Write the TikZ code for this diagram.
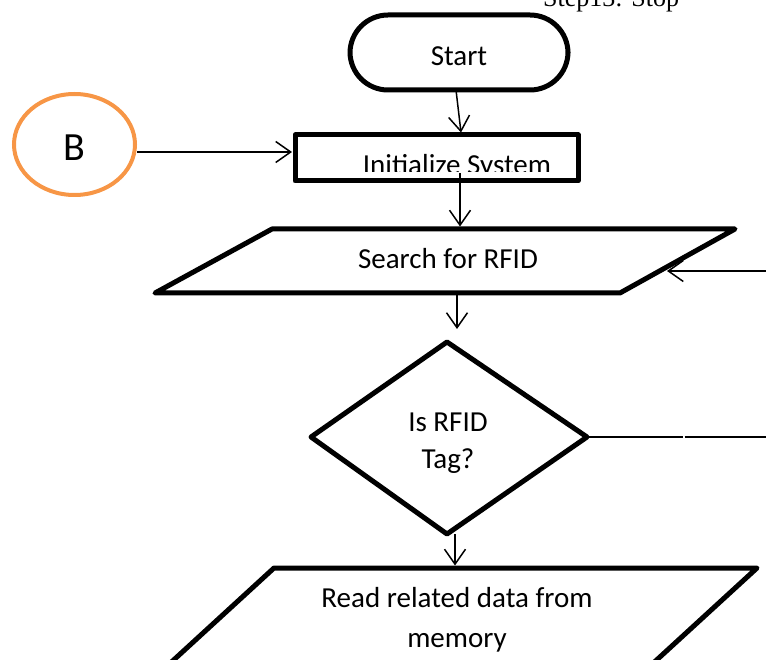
\documentclass[tikz,border=0pt]{standalone}
\usepackage{fontspec}
\usetikzlibrary{arrows.meta,shapes.geometric}
\newfontfamily\flowfont{Carlito}
\newfontfamily\notefont{Liberation Serif}
\definecolor{connorange}{HTML}{F79646}
\tikzset{
  shapeline/.style={line width=5pt, line join=round, black},
  conn/.style={line width=1.5pt, black},
  arr/.style={conn, -{Straight Barb[length=15pt,width=21pt,line width=1.5pt]}},
  flowtext/.style={font=\flowfont\fontsize{29pt}{37pt}\selectfont, align=center, inner sep=0pt, anchor=base},
}
\begin{document}
\begin{tikzpicture}[x=1pt,y=-1pt]
  \useasboundingbox (0,0) rectangle (766,660);
  \clip (0,0) rectangle (766,660);

  % note at the top edge
  \node[font=\notefont\fontsize{26pt}{30pt}\selectfont, anchor=base west, inner sep=0pt] (note) at (543,7) {Step13: Stop};

  % terminal
  \draw[shapeline, rounded corners=38pt] (350,15) rectangle (568,90);
  \node[flowtext] (start) at (459,66) {Start};
  \coordinate (startS) at (456,90);

  % connector circle
  \node[draw=connorange, line width=4pt, ellipse, minimum width=121pt, minimum height=101pt, inner sep=0pt,
        font=\flowfont\fontsize{40pt}{44pt}\selectfont] (B) at (74.5,144.5) {\raisebox{-3pt}[\height][0pt]{B}};

  % process box
  \draw[shapeline] (295,135) rectangle (578,181);
  \coordinate (initN) at (461,132.5);
  \coordinate (initW) at (292,152);
  \coordinate (initOut) at (460,173);
  \begin{scope}
    \clip (296,136) rectangle (577,171.5);
    \node[flowtext] (init) at (457,175) {Initialize System};
  \end{scope}

  % input box
  \draw[shapeline] (272,229) -- (735,229) -- (620,293) -- (155,293) -- cycle;
  \node[flowtext] (search) at (448,269) {Search for RFID};
  \coordinate (searchN) at (460,226.5);
  \coordinate (searchS) at (457,293);
  \coordinate (searchE) at (667,271);
  \coordinate (loopin) at (766,271);

  % decision (base anchor sits on the last line)
  \draw[shapeline] (311,437) -- (447,342) -- (587,437) -- (447,534) -- cycle;
  \node[flowtext] (tag) at (448,468) {Is RFID\\Tag?};
  \coordinate (tagAbove) at (457,329);
  \coordinate (tagE) at (587,437);
  \coordinate (tagS) at (455,534);
  \coordinate (gapL) at (683.2,437);
  \coordinate (gapR) at (684.6,437);
  \coordinate (noOut) at (766,437);

  % second input box, running past the lower edge
  \draw[shapeline] (130,700) -- (274,568) -- (757,568) -- (613,700);
  \node[flowtext, font=\flowfont\fontsize{29pt}{40pt}\selectfont] (read) at (457,647) {Read related data from\\memory};
  \coordinate (readN) at (455,565.5);

  % connectors
  \draw[arr] (startS) -- (initN);
  \draw[arr] (B.east |- initW) -- (initW);
  \draw[arr] (initOut) -- (searchN);
  \draw[arr] (loopin) -- (searchE);
  \draw[arr] (searchS) -- (tagAbove);
  \draw[conn] (tagE) -- (gapL);
  \draw[conn] (gapR) -- (noOut);
  \draw[arr] (tagS) -- (readN);
\end{tikzpicture}
\end{document}
